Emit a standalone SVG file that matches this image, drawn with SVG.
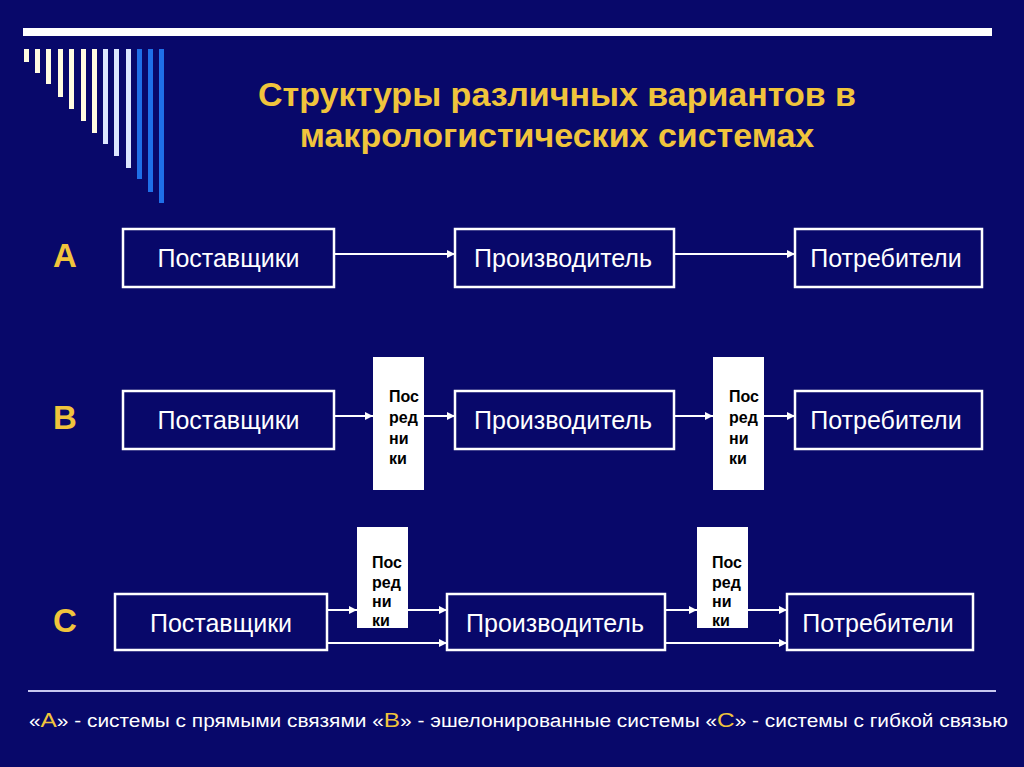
<svg xmlns="http://www.w3.org/2000/svg" width="1024" height="767" viewBox="0 0 1024 767">
<defs>
<marker id="ah" viewBox="0 0 10 10" refX="10" refY="5" markerWidth="9" markerHeight="8" markerUnits="userSpaceOnUse" orient="auto">
<path d="M0,0 L10,5 L0,10 z" fill="#ffffff"/>
</marker>
<style>
.box{fill:none;stroke:#ffffff;stroke-width:2.5}
.mid{fill:#ffffff}
.bt{font-family:"Liberation Sans",Arial,sans-serif;font-size:25px;fill:#ffffff;text-anchor:middle}
.mt{font-family:"Liberation Sans",Arial,sans-serif;font-size:16px;font-weight:bold;fill:#000000}
.lbl{font-family:"Liberation Sans",Arial,sans-serif;font-size:33px;font-weight:bold;fill:#f0c43c;text-anchor:middle}
.ttl{font-family:"Liberation Sans",Arial,sans-serif;font-size:34px;font-weight:bold;fill:#f0c43c;text-anchor:middle}
.con{stroke:#ffffff;stroke-width:2;fill:none;marker-end:url(#ah)}
.cr{fill:#fffbe0}
.lb{fill:#dce6ff}
.bb{fill:#1f6fe8}
</style>
</defs>
<rect width="1024" height="767" fill="#08086a"/>
<g id="decor">
<rect x="23" y="28" width="969" height="8" fill="#ffffff"/>
<rect class="cr" x="24" y="49" width="5" height="13"/>
<rect class="cr" x="35" y="49" width="5" height="24"/>
<rect class="cr" x="46" y="49" width="5" height="35"/>
<rect class="cr" x="58" y="49" width="5" height="48"/>
<rect class="cr" x="69" y="49" width="5" height="60"/>
<rect class="cr" x="81" y="49" width="5" height="72"/>
<rect class="cr" x="92" y="49" width="5" height="84"/>
<rect class="lb" x="103" y="49" width="5" height="95"/>
<rect class="lb" x="114" y="49" width="5" height="107"/>
<rect class="lb" x="126" y="49" width="5" height="119"/>
<rect class="bb" x="137" y="49" width="5" height="130"/>
<rect class="bb" x="148" y="49" width="5" height="143"/>
<rect class="bb" x="159" y="49" width="5" height="154"/>
</g>
<g id="title">
<text class="ttl" x="557" y="106">Структуры различных вариантов в</text>
<text class="ttl" x="557" y="147">макрологистических системах</text>
</g>
<g id="labels">
<text class="lbl" x="65" y="267">A</text>
<text class="lbl" x="65" y="429">B</text>
<text class="lbl" x="65" y="632">C</text>
</g>
<g id="connectors">
<line class="con" x1="335" y1="254" x2="455" y2="254"/>
<line class="con" x1="675" y1="254" x2="795" y2="254"/>
<line class="con" x1="335" y1="416" x2="373" y2="416"/>
<line class="con" x1="424" y1="416" x2="455" y2="416"/>
<line class="con" x1="675" y1="416" x2="713" y2="416"/>
<line class="con" x1="764" y1="416" x2="795" y2="416"/>
<line class="con" x1="328" y1="610" x2="357" y2="610"/>
<line class="con" x1="408" y1="610" x2="447" y2="610"/>
<line class="con" x1="328" y1="643" x2="447" y2="643"/>
<line class="con" x1="666" y1="610" x2="697" y2="610"/>
<line class="con" x1="748" y1="610" x2="787" y2="610"/>
<line class="con" x1="666" y1="643" x2="787" y2="643"/>
</g>
<g id="a-supp"><rect class="box" x="123" y="229" width="211" height="58"/><text class="bt" x="228.5" y="267">Поставщики</text></g>
<g id="a-prod"><rect class="box" x="455" y="229" width="219" height="58"/><text class="bt" x="563" y="267">Производитель</text></g>
<g id="a-cons"><rect class="box" x="795" y="229" width="187" height="58"/><text class="bt" x="886" y="267">Потребители</text></g>
<g id="b-supp"><rect class="box" x="123" y="391" width="211" height="58"/><text class="bt" x="228.5" y="429">Поставщики</text></g>
<g id="b-mid1"><rect class="mid" x="373" y="357" width="51" height="133"/><text class="mt"><tspan x="389" y="402">Пос</tspan><tspan x="389" y="423">ред</tspan><tspan x="389" y="444">ни</tspan><tspan x="389" y="464">ки</tspan></text></g>
<g id="b-prod"><rect class="box" x="455" y="391" width="219" height="58"/><text class="bt" x="563" y="429">Производитель</text></g>
<g id="b-mid2"><rect class="mid" x="713" y="357" width="51" height="133"/><text class="mt"><tspan x="729" y="402">Пос</tspan><tspan x="729" y="423">ред</tspan><tspan x="729" y="444">ни</tspan><tspan x="729" y="464">ки</tspan></text></g>
<g id="b-cons"><rect class="box" x="795" y="391" width="187" height="58"/><text class="bt" x="886" y="429">Потребители</text></g>
<g id="c-supp"><rect class="box" x="115" y="594" width="212" height="56"/><text class="bt" x="221" y="632">Поставщики</text></g>
<g id="c-mid1"><rect class="mid" x="357" y="527" width="51" height="101"/><text class="mt"><tspan x="372" y="568">Пос</tspan><tspan x="372" y="588">ред</tspan><tspan x="372" y="607">ни</tspan><tspan x="372" y="626">ки</tspan></text></g>
<g id="c-prod"><rect class="box" x="447" y="594" width="218" height="56"/><text class="bt" x="555" y="632">Производитель</text></g>
<g id="c-mid2"><rect class="mid" x="697" y="527" width="51" height="101"/><text class="mt"><tspan x="712" y="568">Пос</tspan><tspan x="712" y="588">ред</tspan><tspan x="712" y="607">ни</tspan><tspan x="712" y="626">ки</tspan></text></g>
<g id="c-cons"><rect class="box" x="787" y="594" width="186" height="56"/><text class="bt" x="878" y="632">Потребители</text></g>
<g id="legend">
<line x1="28" y1="691" x2="996" y2="691" stroke="#c8c8f0" stroke-width="2"/>
<text x="29" y="727" font-family="Liberation Sans,Arial,sans-serif" font-size="18" fill="#ffffff" textLength="979" lengthAdjust="spacingAndGlyphs">«<tspan fill="#f0c43c" font-size="21">A</tspan>» - системы с прямыми связями «<tspan fill="#f0c43c" font-size="21">B</tspan>» - эшелонированные системы «<tspan fill="#f0c43c" font-size="21">C</tspan>» - системы с гибкой связью</text>
</g>
</svg>
